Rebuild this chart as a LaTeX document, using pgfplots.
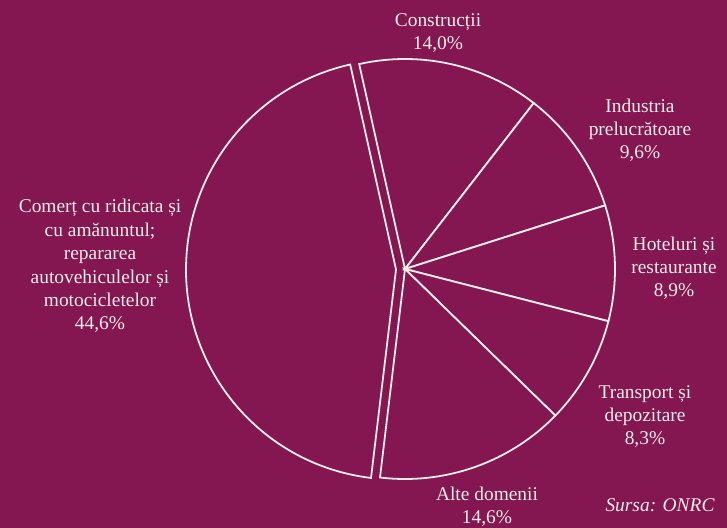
\documentclass[border=0pt]{standalone}
\usepackage{pgfplots}
\usepackage{pgfplotstable}
\pgfplotsset{compat=1.18}
\usepackage{fontspec}
\setmainfont{Liberation Serif}
\definecolor{bg}{HTML}{841652}
\definecolor{fg}{HTML}{F2EDE4}

% share of firms by sector (%), clockwise from the top
\pgfplotstableread{
value explode
14.0  0
9.6   0
8.9   0
8.3   0
14.6  0
44.6  9
}\piedata

\newcommand\cx{405}
\newcommand\cy{259}
\newcommand\rad{210}
\def\cum{102.6}
\pgfplotstableforeachcolumnelement{value}\of\piedata\as\v{%
  \pgfmathsetmacro\nx{\cum-3.6*\v}%
  \pgfplotstablegetelem{\pgfplotstablerow}{explode}\of\piedata
  \let\ex\pgfplotsretval
  \pgfmathsetmacro\mx{\cx+\ex*cos((\cum+\nx)/2)}%
  \pgfmathsetmacro\my{\cy+\ex*sin((\cum+\nx)/2)}%
  \expandafter\xdef\csname ps\pgfplotstablerow\endcsname{\cum}%
  \expandafter\xdef\csname pe\pgfplotstablerow\endcsname{\nx}%
  \expandafter\xdef\csname px\pgfplotstablerow\endcsname{\mx}%
  \expandafter\xdef\csname py\pgfplotstablerow\endcsname{\my}%
  \xdef\cum{\nx}%
}

\begin{document}
\begin{tikzpicture}[
  lbl/.style={text=fg, align=center, anchor=base,
    font=\fontsize{19.5}{23.5}\selectfont, inner sep=0pt},
]
\begin{axis}[
  width=727bp, height=528bp, scale only axis,
  xmin=0, xmax=727, ymin=0, ymax=528,
  hide axis, clip=false,
]
\fill[bg] (axis cs:0,0) rectangle (axis cs:727,528);
\pgfplotsinvokeforeach{0,...,5}{
  \draw[fg, line width=1.8bp, line join=miter, fill=bg]
    (axis cs:\csname px#1\endcsname,\csname py#1\endcsname)
    -- ++(\csname ps#1\endcsname:\rad bp)
    arc[start angle=\csname ps#1\endcsname, end angle=\csname pe#1\endcsname, radius=\rad bp]
    -- cycle;
}
% anchor=base sits on the last line of each label
\node[lbl] at (axis cs:438,478) {Construcții\\14,0\%};
\node[lbl] at (axis cs:640,369) {Industria\\prelucrătoare\\9,6\%};
\node[lbl] at (axis cs:674,231) {Hoteluri și\\restaurante\\8,9\%};
\node[lbl] at (axis cs:645,83) {Transport și\\depozitare\\8,3\%};
\node[lbl] at (axis cs:487,4.5) {Alte domenii\\14,6\%};
\node[lbl] at (axis cs:100,198) {Comerț cu ridicata și\\cu amănuntul;\\repararea\\autovehiculelor și\\motocicletelor\\44,6\%};
\node[lbl, font=\fontsize{19.5}{23.5}\selectfont\itshape] at (axis cs:660,17) {Sursa: ONRC};
\end{axis}
\end{tikzpicture}
\end{document}
